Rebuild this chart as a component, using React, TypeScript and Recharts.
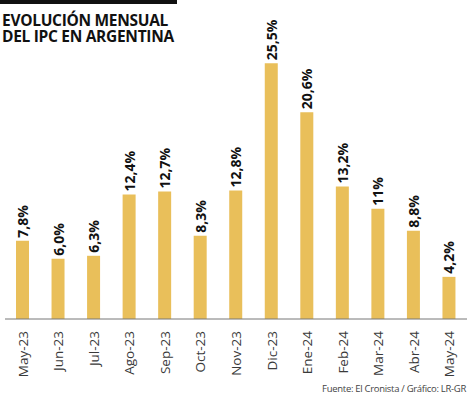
import { Bar, BarChart, LabelList, XAxis, YAxis } from "recharts";

const months = [
  "May-23", "Jun-23", "Jul-23", "Ago-23", "Sep-23", "Oct-23", "Nov-23",
  "Dic-23", "Ene-24", "Feb-24", "Mar-24", "Abr-24", "May-24",
];
const ipc = [7.8, 6.0, 6.3, 12.4, 12.7, 8.3, 12.8, 25.5, 20.6, 13.2, 11.0, 8.8, 4.2];
const ipcLabels = [
  "7,8%", "6,0%", "6,3%", "12,4%", "12,7%", "8,3%", "12,8%",
  "25,5%", "20,6%", "13,2%", "11%", "8,8%", "4,2%",
];
const boundaryTicks = [0, 1, 2, 3, 4, 5, 6, 7, 8, 9, 10, 11, 12, 13];
const titleLines = ["EVOLUCIÓN MENSUAL", "DEL IPC EN ARGENTINA"];

const FONT = "'Open Sans', sans-serif";
const BAR_COLOR = "#E9BF5A";

const data = months.map((month, i) => ({ month, value: ipc[i], label: ipcLabels[i] }));

function MonthTick(props: any) {
  const { x, y, payload } = props;
  return (
    <text
      x={x}
      y={y}
      transform={`rotate(-90, ${x}, ${y})`}
      textAnchor="end"
      dominantBaseline="central"
      fill="#3a3a3a"
      fontSize={13.5}
      fontFamily={FONT}
    >
      {payload.value}
    </text>
  );
}

function ValueLabel(props: any) {
  const { x, y, width, index } = props;
  const cx = x + width / 2;
  const ty = y - 3;
  return (
    <text
      x={cx}
      y={ty}
      transform={`rotate(-90, ${cx}, ${ty})`}
      textAnchor="start"
      dominantBaseline="central"
      fill="#111"
      fontSize={14}
      fontWeight={700}
      fontFamily={FONT}
    >
      {ipcLabels[index]}
    </text>
  );
}

export default function App() {
  return (
    <div style={{ position: "relative", width: 474, height: 395, background: "#fff" }}>
      <style>{`body{margin:0}`}</style>
      <div style={{ position: "absolute", left: 0, top: 0, width: 177, height: 4, background: "#111" }} />
      {titleLines.map((line, i) => (
        <div
          key={line}
          style={{
            position: "absolute",
            left: 2,
            top: 12 + i * 16,
            fontFamily: FONT,
            fontWeight: 700,
            fontSize: 15.5,
            lineHeight: "16px",
            color: "#111",
            letterSpacing: -0.3,
            whiteSpace: "nowrap",
            zIndex: 2,
          }}
        >
          {line}
        </div>
      ))}
      <BarChart
        width={474}
        height={395}
        data={data}
        margin={{ top: 18, right: 7, bottom: 16, left: 5 }}
      >
        <YAxis hide domain={[0, 30]} />
        <XAxis
          xAxisId="grid"
          type="number"
          domain={[0, 13]}
          ticks={boundaryTicks}
          tickFormatter={() => ""}
          tickSize={-6}
          axisLine={false}
          tickLine={{ stroke: "#777" }}
          height={0}
        />
        <XAxis
          dataKey="month"
          interval={0}
          tickLine={false}
          axisLine={{ stroke: "#777" }}
          tick={<MonthTick />}
          tickMargin={6}
          height={60}
        />
        <Bar dataKey="value" fill={BAR_COLOR} barSize={13} isAnimationActive={false}>
          <LabelList dataKey="label" content={<ValueLabel />} />
        </Bar>
      </BarChart>
      <div
        style={{
          position: "absolute",
          right: 8,
          top: 382,
          fontFamily: FONT,
          fontSize: 9.5,
          letterSpacing: -0.3,
          color: "#444",
        }}
      >
        Fuente: El Cronista / Gráfico: LR-GR
      </div>
    </div>
  );
}
